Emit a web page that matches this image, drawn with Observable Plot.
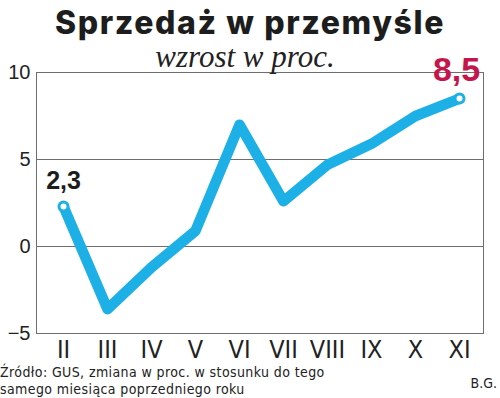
<!DOCTYPE html>
<html><head><meta charset="utf-8">
<script src="https://cdn.jsdelivr.net/npm/d3@7"></script>
<script src="https://cdn.jsdelivr.net/npm/@observablehq/plot@0.6"></script>
<style>
body{margin:0;background:#fff;}
#wrap{position:relative;width:500px;height:398px;overflow:hidden;background:#fff;}
#chart{position:absolute;left:0;top:0;}
.t{position:absolute;white-space:nowrap;line-height:1;}
#title{left:250px;top:7px;transform:translateX(-50%);font-family:Inter,"Open Sans",sans-serif;font-weight:800;font-size:32px;color:#1d1d1d;letter-spacing:1.6px;}
#subtitle{left:245px;top:41px;transform:translateX(-50%);font-family:"Liberation Serif","DejaVu Serif",serif;font-style:italic;font-size:31px;color:#222;}
#caption{left:0px;top:364px;font-family:"DejaVu Sans Condensed","Liberation Sans",sans-serif;font-size:14px;color:#222;line-height:17px;letter-spacing:0.4px;}
#author{right:3px;top:376px;font-family:"DejaVu Sans Condensed","Liberation Sans",sans-serif;font-size:14px;color:#222;}
[aria-label="x-axis tick label"] text{font-size:25px;font-family:"Liberation Sans Narrow","DejaVu Sans Condensed",sans-serif;}
[aria-label="y-axis tick label"] text{font-size:20px;font-family:"Liberation Sans",Arial,sans-serif;}
</style></head><body>
<div id="wrap">
<div id="chart"></div>
<div class="t" id="title">Sprzedaż w przemyśle</div>
<div class="t" id="subtitle">wzrost w proc.</div>
<div class="t" id="caption">Źródło: GUS, zmiana w proc. w stosunku do tego<br>samego miesiąca poprzedniego roku</div>
<div class="t" id="author">B.G.</div>
</div>
<script>
const months = ["II","III","IV","V","VI","VII","VIII","IX","X","XI"];
const values = [2.3,-3.6,-1.2,0.9,7.0,2.6,4.7,5.9,7.5,8.5];
const yTicks = [-5,0,5,10];
const endLabels = ["2,3","8,5"];

const data = months.map((m,i)=>({m, v: values[i]}));
const first = [data[0]];
const last = [data[data.length-1]];
const blue = "#1cb0e6";

const svg = Plot.plot({
  width:500, height:398,
  marginTop:72, marginBottom:65, marginLeft:36, marginRight:17,
  style:{fontFamily:"Liberation Sans, Arial, sans-serif", color:"#222", background:"transparent"},
  x:{type:"point", domain:months, range:[61,461], padding:0, label:null},
  y:{domain:[-5,10], label:null},
  marks:[
    Plot.ruleY(yTicks,{stroke:"#6e6e6e", strokeWidth:1}),
    Plot.frame({stroke:"#6e6e6e", strokeWidth:1}),
    Plot.axisY(yTicks,{tickSize:0, tickPadding:6, label:null}),
    Plot.axisX({tickSize:0, tickPadding:7, label:null}),
    Plot.line(data,{x:"m", y:"v", stroke:"#000", strokeOpacity:0.25, strokeWidth:10, dx:4, dy:6, strokeLinejoin:"round", strokeLinecap:"round", ariaLabel:"shadow"}),
    Plot.line(data,{x:"m", y:"v", stroke:blue, strokeWidth:10.5, strokeLinejoin:"round", strokeLinecap:"round"}),
    Plot.dot(first.concat(last),{x:"m", y:"v", r:4.5, fill:"white", stroke:blue, strokeWidth:3}),
    Plot.text(first,{x:"m", y:"v", text:()=>endLabels[0], dy:-25, fontSize:25, fontWeight:"bold", fill:"#1d1d1d"}),
    Plot.text(last,{x:"m", y:"v", text:()=>endLabels[1], dy:-28, dx:-3, fontSize:34, fontWeight:"bold", fill:"#c4164c"})
  ]
});
document.getElementById("chart").appendChild(svg);
const ns = "http://www.w3.org/2000/svg";
const defs = document.createElementNS(ns,"defs");
defs.innerHTML = '<filter id="blurShadow" x="-20%" y="-20%" width="140%" height="140%"><feGaussianBlur stdDeviation="4"/></filter>';
svg.insertBefore(defs, svg.firstChild);
const sh = svg.querySelector('[aria-label="shadow"]');
if (sh) sh.setAttribute("filter","url(#blurShadow)");
</script>
</body></html>
